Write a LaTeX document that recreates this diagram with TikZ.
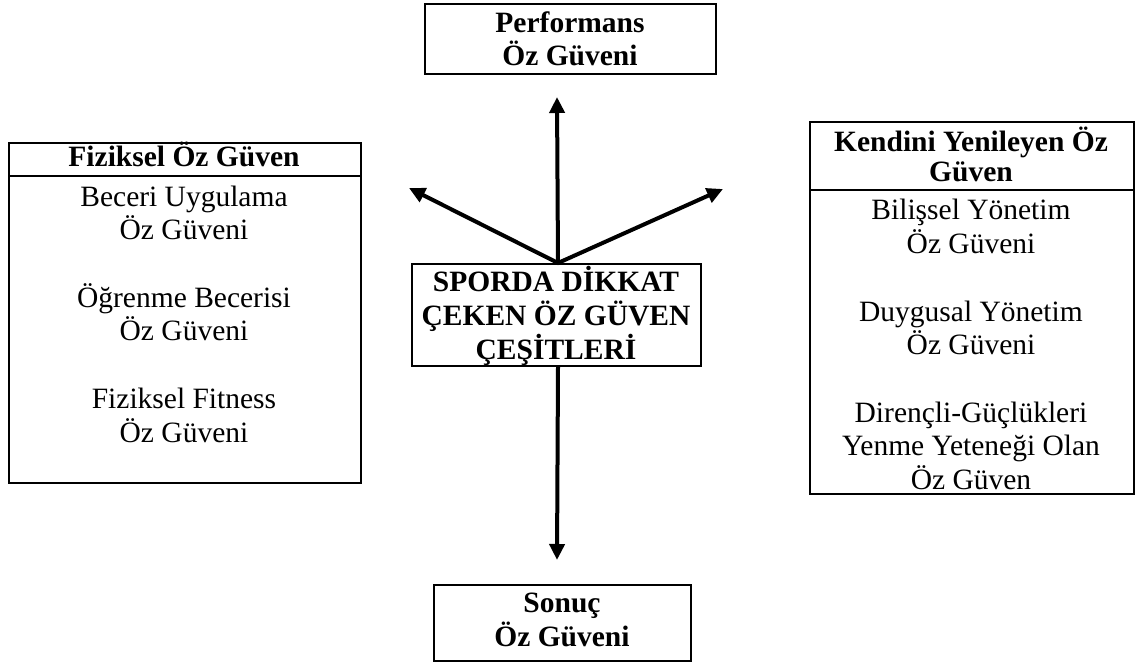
\documentclass[tikz,border=0pt]{standalone}
\usepackage{fontspec}
\setmainfont{Liberation Serif}
\usetikzlibrary{arrows.meta}
\begin{document}
\begin{tikzpicture}[x=1pt,y=-1pt,
  box/.style={draw, line width=2pt, inner sep=0pt, anchor=north west},
  rtxt/.style={align=center, inner sep=0pt, anchor=base, font=\fontsize{29.5}{33.7}\selectfont},
  btxt/.style={align=center, inner sep=0pt, anchor=base, font=\fontsize{29.5}{33.5}\selectfont\bfseries},
  conn/.style={line width=4pt, -{Triangle[length=16pt,width=15pt]}},
  conn2/.style={line width=4pt, {Triangle[length=16pt,width=15pt]}-{Triangle[length=16pt,width=15pt]}}]
\useasboundingbox (0,0) rectangle (1135,666);

% top box
\node[box, minimum width=291, minimum height=70] (perf) at (424,3) {};
\node[btxt] (perft) at (570,66) {Performans\\Öz Güveni};

% centre box
\node[box, minimum width=289, minimum height=102] (c) at (411,263) {};
\node[btxt, font=\fontsize{29.5}{34}\selectfont\bfseries] (ct) at (556,359) {SPORDA DİKKAT\\ÇEKEN ÖZ GÜVEN\\ÇEŞİTLERİ};

% bottom box
\node[box, minimum width=257, minimum height=76] (son) at (433,584) {};
\node[btxt] (sont) at (562,646) {Sonuç\\Öz Güveni};

% left box
\node[box, minimum width=352, minimum height=33] (lh) at (8,142) {};
\node[box, minimum width=352, minimum height=307] (lb) at (8,175) {};
\node[btxt] (lht) at (184,167) {Fiziksel Öz Güven};
\node[rtxt] (lbt) at (184,442) {Beceri Uygulama\\Öz Güveni\\[33.7pt]Öğrenme Becerisi\\Öz Güveni\\[33.7pt]Fiziksel Fitness\\Öz Güveni};

% right box
\node[box, minimum width=324, minimum height=68] (rh) at (809,121) {};
\node[box, minimum width=324, minimum height=304] (rb) at (809,189) {};
\node[btxt, font=\fontsize{29.5}{30}\selectfont\bfseries] (rht) at (971,182) {Kendini Yenileyen Öz\\Güven};
\node[rtxt] (rbt) at (971,489.5) {Bilişsel Yönetim\\Öz Güveni\\[33.7pt]Duygusal Yönetim\\Öz Güveni\\[33.7pt]Dirençli-Güçlükleri\\Yenme Yeteneği Olan\\Öz Güven};

% connectors
\coordinate (hub) at ([xshift=1.5pt]c.north);
\coordinate (tipU) at (557,97);
\coordinate (tipL) at (409,188);
\coordinate (tipR) at (723,189);
\coordinate (tipD) at (557,560);
\draw[conn] (hub) -- (tipU);
\draw[conn2] (tipL) -- (hub) -- (tipR);
\draw[conn] (c.south -| hub) -- (tipD);
\end{tikzpicture}
\end{document}
